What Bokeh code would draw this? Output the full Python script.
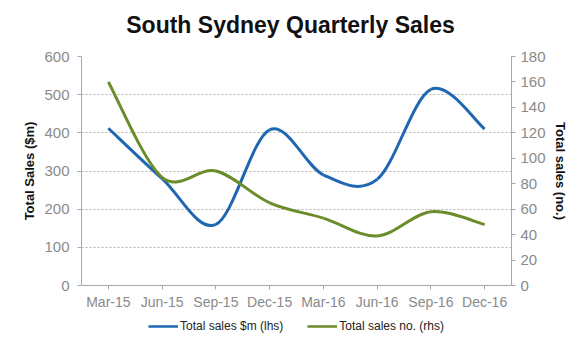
from bokeh.plotting import figure
from bokeh.layouts import column
from bokeh.models import LinearAxis, Range1d, FixedTicker, Legend, LegendItem, ColumnDataSource, Label
from bokeh.embed import file_html
from bokeh.resources import INLINE

# ---- data ----
title_text = "South Sydney Quarterly Sales"
quarters = ["Mar-15", "Jun-15", "Sep-15", "Dec-15", "Mar-16", "Jun-16", "Sep-16", "Dec-16"]
sales_m = [412, 280, 160, 408, 290, 278, 514, 410]      # Total sales $m (lhs)
sales_no = [160, 85, 90, 65, 53, 39, 58, 48]            # Total sales no. (rhs)
left_ticks = [0, 100, 200, 300, 400, 500, 600]
right_ticks = [0, 20, 40, 60, 80, 100, 120, 140, 160, 180]
series_labels = ["Total sales $m (lhs)", "Total sales no. (rhs)"]

FONT = "Liberation Sans"
BLUE = "#2067b2"
GREEN = "#6b8c2a"
GREY_TXT = "#8a8a8a"
AXIS_GREY = "#a8a8a8"


def smooth_segments(ys):
    """Bezier segments through the data points (Excel-style smoothed line)."""
    n = len(ys)
    xs = list(range(n))
    d = dict(x0=[], y0=[], x1=[], y1=[], cx0=[], cy0=[], cx1=[], cy1=[])
    for i in range(n - 1):
        pv = max(i - 1, 0)
        nx = min(i + 2, n - 1)
        d["x0"].append(xs[i]); d["y0"].append(ys[i])
        d["x1"].append(xs[i + 1]); d["y1"].append(ys[i + 1])
        d["cx0"].append(xs[i] + (xs[i + 1] - xs[pv]) / 6)
        d["cy0"].append(ys[i] + (ys[i + 1] - ys[pv]) / 6)
        d["cx1"].append(xs[i + 1] - (xs[nx] - xs[i]) / 6)
        d["cy1"].append(ys[i + 1] - (ys[nx] - ys[i]) / 6)
    return ColumnDataSource(d)


def strip(height, y_range):
    f = figure(width=580, height=height, output_backend="svg", toolbar_location=None,
               x_range=Range1d(-0.5, len(quarters) - 0.5), y_range=y_range,
               x_axis_location=None, y_axis_location=None, min_border=0)
    f.outline_line_color = None
    f.xgrid.grid_line_color = None
    f.ygrid.grid_line_color = None
    return f


src_m = smooth_segments(sales_m)
src_no = smooth_segments(sales_no)
bez = dict(x0="x0", y0="y0", x1="x1", y1="y1", cx0="cx0", cy0="cy0", cx1="cx1", cy1="cy1")

# ---- title strip (its frame is aligned with the chart frame: 81..511) ----
tt = strip(46, Range1d(0, 1))
tt.add_layout(Label(x=209, y=21.5, x_units="screen", y_units="screen", text=title_text,
                    text_align="center", text_baseline="alphabetic",
                    text_font=FONT, text_font_size="23px", text_font_style="bold",
                    text_color="#111111"))

# ---- main chart ----
p = figure(width=580, height=266, output_backend="svg", toolbar_location=None,
           x_range=Range1d(-0.5, len(quarters) - 0.5), y_range=Range1d(0, 600),
           min_border_left=81, min_border_right=69, min_border_top=10, min_border_bottom=26)
p.outline_line_color = None
p.background_fill_color = "white"
p.border_fill_color = "white"

p.extra_y_ranges = {"rhs": Range1d(0, 180)}

xa = p.xaxis[0]
xa.ticker = FixedTicker(ticks=list(range(len(quarters))))
xa.major_label_overrides = {i: q for i, q in enumerate(quarters)}

ya = p.yaxis[0]
ya.ticker = FixedTicker(ticks=left_ticks)
ya.axis_label = "Total Sales ($m)"

ra = LinearAxis(y_range_name="rhs", ticker=FixedTicker(ticks=right_ticks),
                axis_label="Total sales (no.)")
p.add_layout(ra, "right")

for ax in [xa, ya, ra]:
    ax.minor_tick_line_color = None
    ax.axis_line_color = AXIS_GREY
    ax.major_tick_line_color = AXIS_GREY
    ax.major_tick_in = 0
    ax.major_tick_out = 4
    ax.major_label_text_font = FONT
    ax.major_label_text_color = GREY_TXT
    ax.major_label_text_font_size = "15px"
    ax.axis_label_text_font = FONT
    ax.axis_label_text_font_size = "13px"
    ax.axis_label_text_font_style = "bold"
    ax.axis_label_text_color = "#111111"
xa.major_label_text_font_size = "14px"
ya.major_label_standoff = 8
ra.major_label_standoff = 5
xa.major_label_standoff = 4
ya.axis_label_standoff = 4
ra.axis_label_standoff = 4

p.xgrid.grid_line_color = None
p.ygrid.grid_line_color = "#b4b4b4"
p.ygrid.grid_line_dash = "2 2"
p.ygrid.grid_line_width = 1

p.bezier(source=src_m, line_color=BLUE, line_width=3, **bez)
p.bezier(source=src_no, line_color=GREEN, line_width=3, y_range_name="rhs", **bez)

# ---- legend strip below the chart (its y range keeps the curves out of view) ----
lg = strip(28, Range1d(1000, 1001))
k1 = lg.bezier(source=src_m, line_color=BLUE, line_width=2.5, **bez)
k2 = lg.bezier(source=src_no, line_color=GREEN, line_width=2.5, **bez)
legend = Legend(items=[LegendItem(label=series_labels[0], renderers=[k1]),
                       LegendItem(label=series_labels[1], renderers=[k2])],
                orientation="horizontal", location="center")
legend.label_text_font = FONT
legend.label_text_font_size = "12px"
legend.label_text_color = "#222222"
legend.glyph_width = 30
legend.glyph_height = 12
legend.label_height = 12
legend.label_standoff = 2
legend.spacing = 24
legend.border_line_color = None
legend.background_fill_alpha = 0
legend.padding = 2
legend.margin = 0
lg.add_layout(legend, "center")

layout = column(tt, p, lg, spacing=0)
open("out.html", "w").write(file_html(layout, INLINE))
